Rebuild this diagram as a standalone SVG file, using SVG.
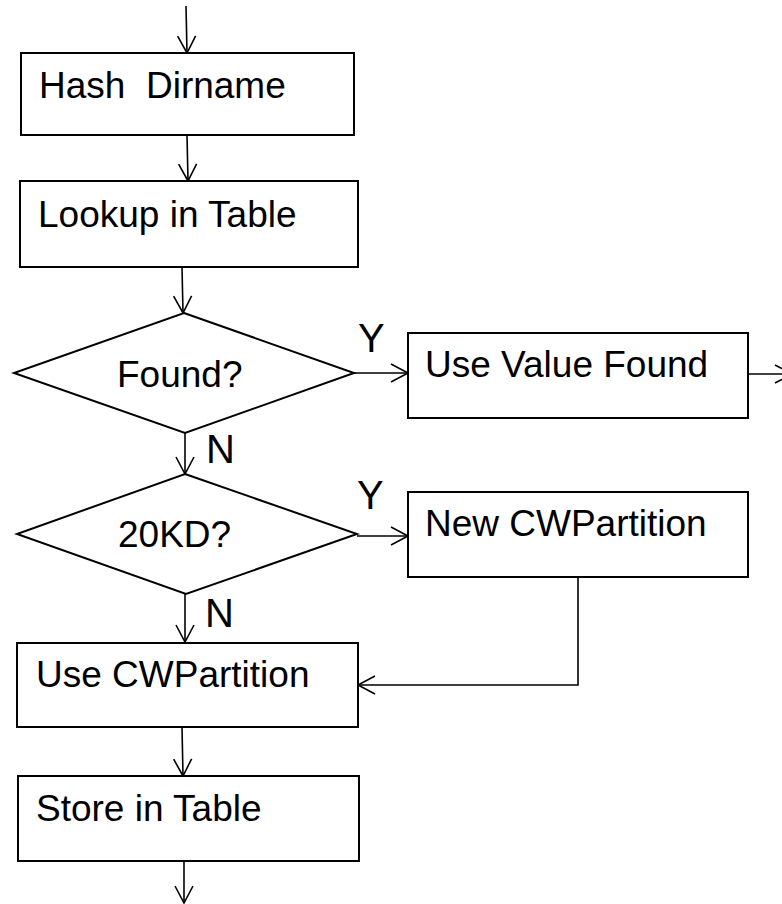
<svg xmlns="http://www.w3.org/2000/svg" width="782" height="904" viewBox="0 0 782 904">
<style>
.box{fill:#fff;stroke:#000;stroke-width:2}
.lbl{font-family:"Liberation Sans",Arial,sans-serif;font-size:37px;fill:#000}
.yn{font-family:"Liberation Sans",Arial,sans-serif;font-size:40px;fill:#000}
.conn{fill:none;stroke:#000;stroke-width:1.6}
</style>
<defs>
<marker id="arr" markerUnits="userSpaceOnUse" markerWidth="24" markerHeight="24" viewBox="-20 -12 24 24" refX="0" refY="0" orient="auto" overflow="visible">
<path d="M-17,-9 L0,0 L-17,9" fill="none" stroke="#000" stroke-width="1.6"/>
</marker>
</defs>
<rect width="782" height="904" fill="#fff"/>
<g id="connectors">
<line class="conn" x1="186" y1="6" x2="187" y2="53" marker-end="url(#arr)"/>
<line class="conn" x1="187" y1="135" x2="188" y2="181" marker-end="url(#arr)"/>
<line class="conn" x1="182" y1="267" x2="183" y2="313" marker-end="url(#arr)"/>
<line class="conn" x1="354" y1="373" x2="408" y2="373" marker-end="url(#arr)"/>
<line class="conn" x1="748" y1="374" x2="792" y2="374" marker-end="url(#arr)"/>
<line class="conn" x1="185" y1="433" x2="185" y2="474" marker-end="url(#arr)"/>
<line class="conn" x1="357" y1="536" x2="408" y2="536" marker-end="url(#arr)"/>
<line class="conn" x1="185" y1="594" x2="185" y2="642" marker-end="url(#arr)"/>
<polyline class="conn" points="578,577 578,685 358,685" marker-end="url(#arr)"/>
<line class="conn" x1="182" y1="727" x2="183" y2="776" marker-end="url(#arr)"/>
<line class="conn" x1="184" y1="861" x2="184" y2="903" marker-end="url(#arr)"/>
<text class="yn" x="358" y="352">Y</text>
<text class="yn" x="206" y="463">N</text>
<text class="yn" x="357" y="509">Y</text>
<text class="yn" x="205" y="627">N</text>
</g>
<g id="hash">
<rect class="box" x="21" y="53" width="333" height="82"/>
<text class="lbl" x="39" y="98" xml:space="preserve">Hash  Dirname</text>
</g>
<g id="lookup">
<rect class="box" x="20" y="181" width="338" height="86"/>
<text class="lbl" x="38" y="227">Lookup in Table</text>
</g>
<g id="found">
<polygon class="box" points="184,313 354,373 185,433 14,373"/>
<text class="lbl" x="117" y="387">Found?</text>
</g>
<g id="usevalue">
<rect class="box" x="408" y="333" width="340" height="85"/>
<text class="lbl" x="425" y="377">Use Value Found</text>
</g>
<g id="kd20">
<polygon class="box" points="185,474 357,534 186,594 17,534"/>
<text class="lbl" x="118" y="547">20KD?</text>
</g>
<g id="newcw">
<rect class="box" x="408" y="492" width="340" height="85"/>
<text class="lbl" x="425" y="536">New CWPartition</text>
</g>
<g id="usecw">
<rect class="box" x="17" y="643" width="341" height="84"/>
<text class="lbl" x="36" y="687">Use CWPartition</text>
</g>
<g id="store">
<rect class="box" x="18" y="776" width="341" height="85"/>
<text class="lbl" x="36" y="821">Store in Table</text>
</g>
</svg>
